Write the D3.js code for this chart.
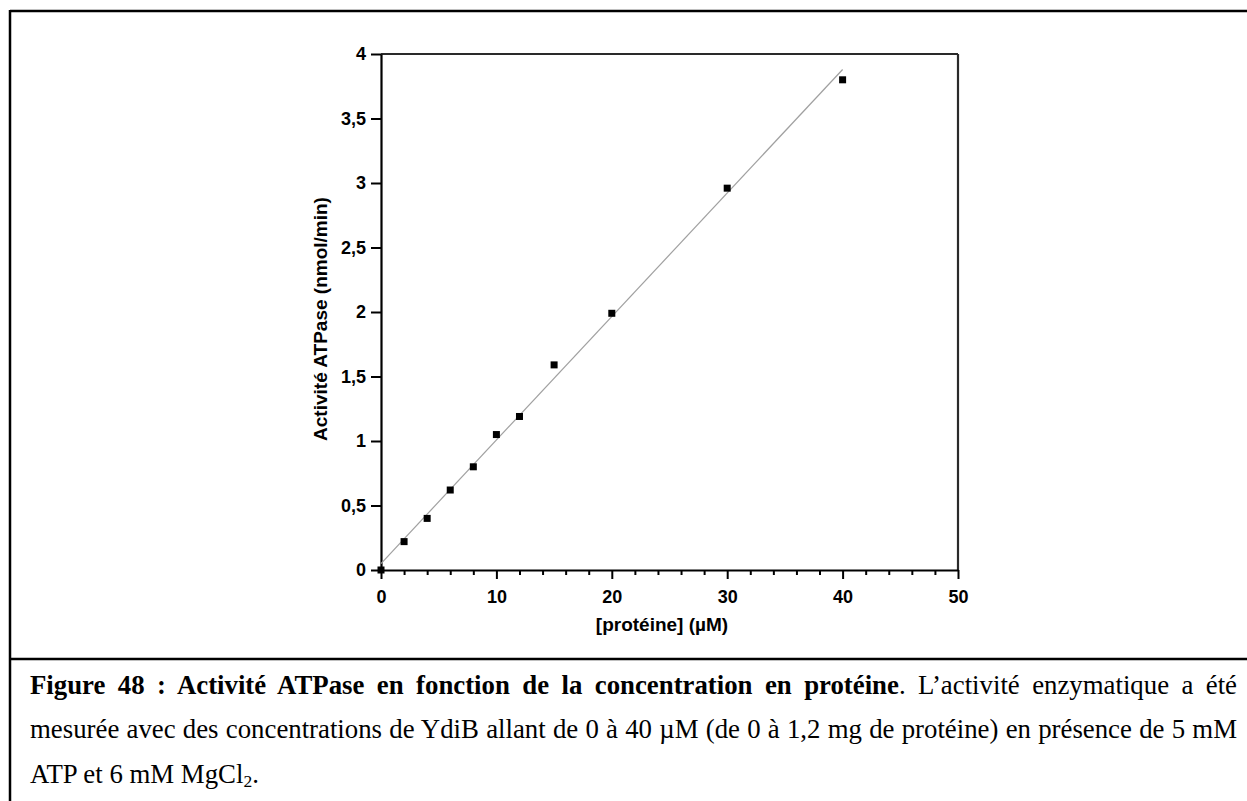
<!DOCTYPE html>
<html>
<head>
<meta charset="utf-8">
<script src="https://cdn.jsdelivr.net/npm/d3@7"></script>
<style>
  html, body { margin: 0; padding: 0; background: #fff; }
  #wrap { position: relative; width: 1247px; height: 801px; overflow: hidden; }
  svg { position: absolute; left: 0; top: 0; }
  .capline {
    position: absolute; left: 30px; width: 1207px;
    font-family: "Liberation Serif", "Times New Roman", serif;
    font-size: 26.8px; line-height: 32px; color: #000;
    text-align: justify; text-align-last: justify;
  }
  .capline.last { text-align: left; text-align-last: left; }
  .capline sub { font-size: 17.5px; vertical-align: -4px; line-height: 0; }
</style>
</head>
<body>
<div id="wrap"></div>
<script>
// ---- data ----
const concentrations = [0, 2, 4, 6, 8, 10, 12, 15, 20, 30, 40];          // µM
const activities     = [0, 0.22, 0.40, 0.62, 0.80, 1.05, 1.19, 1.59, 1.99, 2.96, 3.80]; // nmol/min
const fitX = [0, 40];
const fitY = [0.05, 3.88];
const xMajorTicks = [0, 10, 20, 30, 40, 50];
const xMinorTicks = [2, 4, 6, 8, 12, 14, 16, 18, 22, 24, 26, 28, 32, 34, 36, 38, 42, 44, 46, 48];
const yTicks = [0, 0.5, 1, 1.5, 2, 2.5, 3, 3.5, 4];
const xTitle = "[protéine] (µM)";
const yTitle = "Activité ATPase (nmol/min)";
const captionLines = [
  "<b>Figure 48&nbsp;: Activité ATPase en fonction de la concentration en protéine</b>. L’activité enzymatique a été",
  "mesurée avec des concentrations de YdiB allant de 0 à 40 µM (de 0 à 1,2 mg de protéine) en présence de 5&nbsp;mM",
  "ATP et 6 mM MgCl<sub>2</sub>."
];

const W = 1247, H = 801;
const wrap = d3.select("#wrap");
const svg = wrap.append("svg").attr("width", W).attr("height", H);
svg.append("rect").attr("width", W).attr("height", H).attr("fill", "#fff");

// outer frame + separator
const frame = svg.append("g").attr("stroke", "#000").attr("stroke-width", 2.5);
frame.append("line").attr("x1", 10).attr("x2", W + 5).attr("y1", 11).attr("y2", 11);
frame.append("line").attr("x1", 10).attr("x2", 10).attr("y1", 10).attr("y2", H + 5);
frame.append("line").attr("x1", 10).attr("x2", W + 5).attr("y1", 659).attr("y2", 659);

// scales
const x = d3.scaleLinear().domain([0, 50]).range([381, 958]);
const y = d3.scaleLinear().domain([0, 4]).range([570, 54]);

const fontFam = "'Liberation Sans', Arial, sans-serif";

// plot frame top & right
svg.append("line").attr("x1", x(0)).attr("x2", x(50)).attr("y1", y(4)).attr("y2", y(4))
  .attr("stroke", "#2a2a2a").attr("stroke-width", 2.2);
svg.append("line").attr("x1", x(50)).attr("x2", x(50)).attr("y1", y(4)).attr("y2", y(0))
  .attr("stroke", "#2a2a2a").attr("stroke-width", 2.2);

// x axis minor ticks
svg.append("g").attr("transform", `translate(0,${y(0)})`)
  .call(d3.axisBottom(x).tickValues(xMinorTicks).tickSize(5).tickFormat(""))
  .call(g => g.select(".domain").remove())
  .call(g => g.selectAll(".tick line").attr("stroke", "#000").attr("stroke-width", 2));

// x axis major
svg.append("g").attr("transform", `translate(0,${y(0)})`)
  .call(d3.axisBottom(x).tickValues(xMajorTicks).tickSize(9).tickSizeOuter(0).tickPadding(11).tickFormat(d3.format("d")))
  .call(g => g.select(".domain").attr("stroke", "#000").attr("stroke-width", 2.2))
  .call(g => g.selectAll(".tick line").attr("stroke", "#000").attr("stroke-width", 2))
  .call(g => g.selectAll(".tick text").attr("font-family", fontFam).attr("font-size", 18)
    .attr("font-weight", "bold").attr("fill", "#000"));

// y axis
const yFmt = d => String(d).replace(".", ",");
svg.append("g").attr("transform", `translate(${x(0)},0)`)
  .call(d3.axisLeft(y).tickValues(yTicks).tickSize(10).tickSizeOuter(0).tickPadding(5).tickFormat(yFmt))
  .call(g => g.select(".domain").attr("stroke", "#000").attr("stroke-width", 2.2))
  .call(g => g.selectAll(".tick line").attr("stroke", "#000").attr("stroke-width", 2))
  .call(g => g.selectAll(".tick text").attr("font-family", fontFam).attr("font-size", 18)
    .attr("font-weight", "bold").attr("fill", "#000"));

// titles
svg.append("text").attr("x", 662).attr("y", 631).attr("text-anchor", "middle")
  .attr("font-family", fontFam).attr("font-size", 19).attr("font-weight", "bold").text(xTitle);
svg.append("text").attr("transform", "translate(327,319) rotate(-90)").attr("text-anchor", "middle")
  .attr("font-family", fontFam).attr("font-size", 19).attr("font-weight", "bold").text(yTitle);

// fit line
svg.append("path")
  .datum(fitX.map((v, i) => [v, fitY[i]]))
  .attr("d", d3.line().x(d => x(d[0])).y(d => y(d[1])))
  .attr("fill", "none").attr("stroke", "#a0a0a0").attr("stroke-width", 1.2);

// points
const pts = concentrations.map((c, i) => ({ c, a: activities[i] }));
svg.append("g").selectAll("rect").data(pts).join("rect")
  .attr("x", d => x(d.c) - 3.5).attr("y", d => y(d.a) - 3.5)
  .attr("width", 7).attr("height", 7).attr("fill", "#000");

// caption, one block per printed line
const baselines = [694, 738, 783];
const lh = 32, fs = 26.8;
const baseOff = (lh - 1.107 * fs) / 2 + 0.891 * fs;
wrap.selectAll("div.capline").data(captionLines).join("div")
  .attr("class", (d, i) => i === captionLines.length - 1 ? "capline last" : "capline")
  .style("top", (d, i) => (baselines[i] - baseOff) + "px")
  .html(d => d);
</script>
</body>
</html>
